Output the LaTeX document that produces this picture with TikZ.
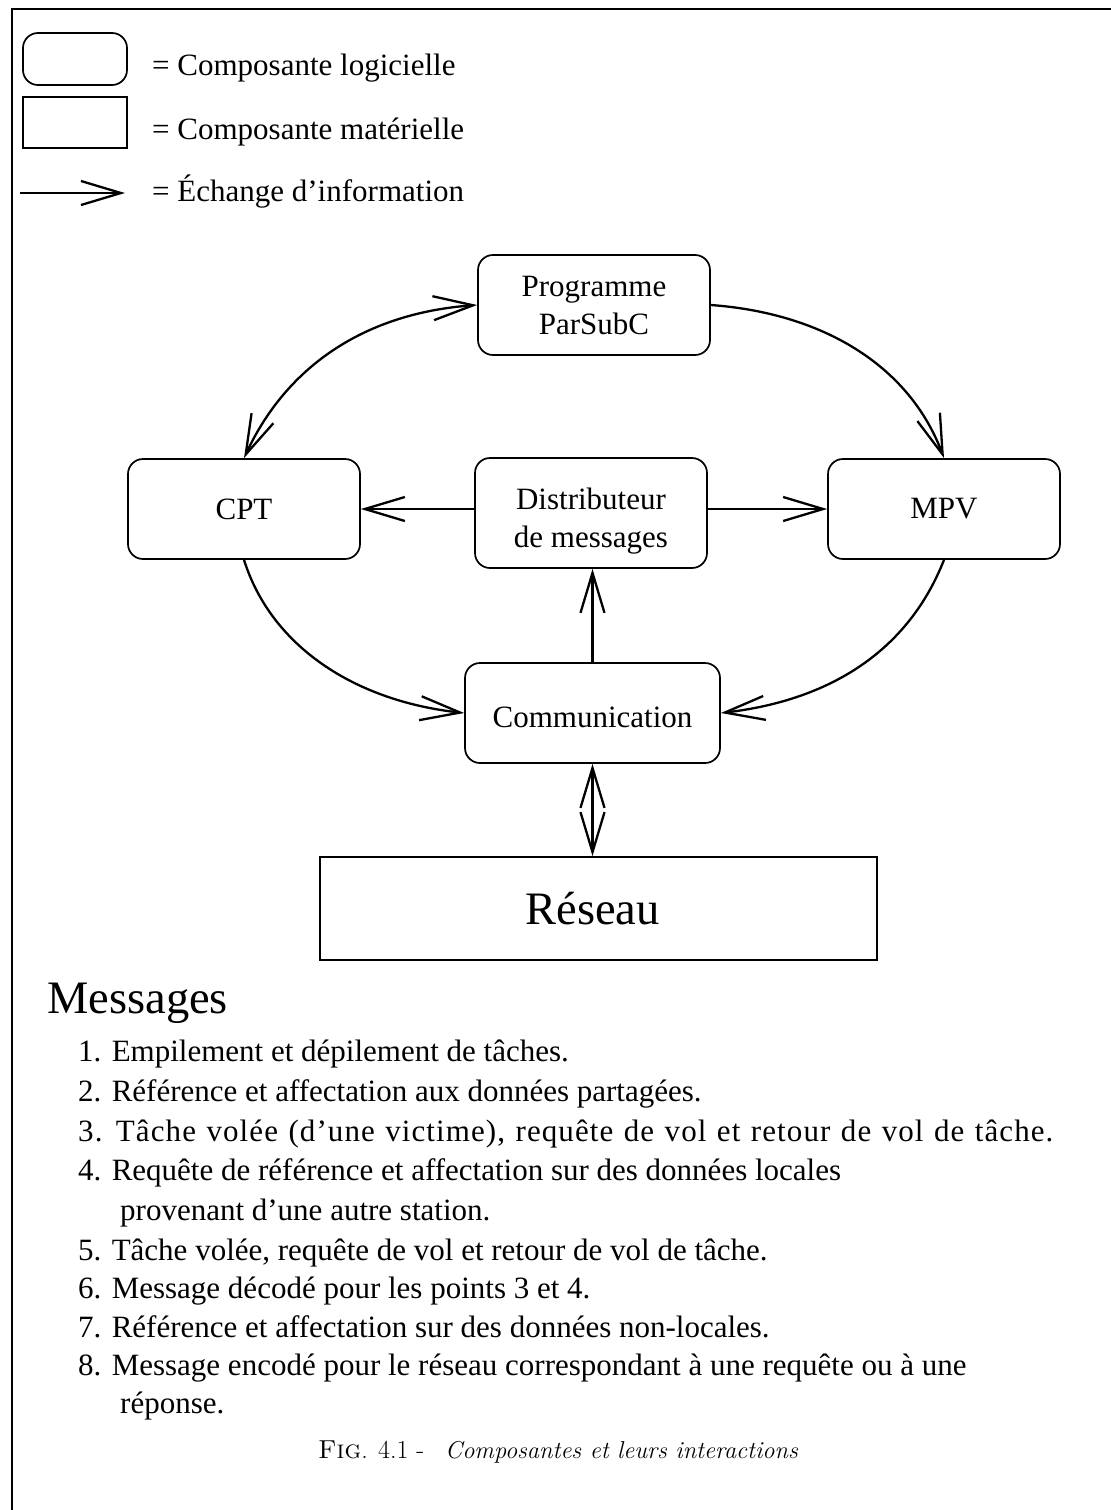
\documentclass[tikz,border=0pt]{standalone}
\usepackage{fontspec}
\newfontfamily\tms{Liberation Serif}
\newfontfamily\tmswide[LetterSpace=3.5]{Liberation Serif}
\usetikzlibrary{arrows.meta}
\begin{document}
\begin{tikzpicture}[x=1pt,y=-1pt,
  >={Straight Barb[length=40pt,width=24pt]},
  txt/.style={font=\tms\fontsize{31}{38}\selectfont, inner sep=0pt, anchor=base west},
  bigtxt/.style={font=\tms\fontsize{46.5}{50}\selectfont, inner sep=0pt},
  soft/.style={draw, line width=1.7pt, rounded corners=15pt, minimum width=232pt,
    minimum height=100pt, align=center, inner sep=0pt,
    font=\tms\fontsize{31}{38}\selectfont},
  hard/.style={draw, line width=1.7pt, inner sep=0pt},
  flow/.style={line width=2.3pt, ->},
  caption/.style={inner sep=0pt, anchor=base west, font=\fontsize{24.4}{28}\selectfont},
]
\useasboundingbox (0,0) rectangle (1111,1510);
\fill[white] (0,0) rectangle (1111,1510);

% outer frame
\draw[line width=1.8pt] (12,9) rectangle (1140,1540);

% legend
\node[soft, minimum width=104pt, minimum height=52pt] (legsoft) at (75,59) {};
\node[hard, minimum width=104pt, minimum height=51pt] (leghard) at (75,122.5) {};
\coordinate (legtail) at (20,193);
\coordinate (leghead) at (125,193);
\draw[flow] (legtail) -- (leghead);
\node[txt] (legsofttxt) at (152,75) {= Composante logicielle};
\node[txt] (leghardtxt) at (152,139) {= Composante matérielle};
\node[txt] (legflowtxt) at (152,201) {= Échange d’information};

% components
\node[soft] (prog) at (594,305) {Programme\\ParSubC};
\node[soft] (cpt) at (244,509) {CPT};
\node[soft, minimum height=110pt] (dist) at (591,513) {\rule{0pt}{38pt}Distributeur\\de messages};
\node[soft] (mpv) at (944,509) {MPV};
\node[soft, minimum width=255pt] (comm) at (592.5,713) {\rule{0pt}{30pt}Communication};
\node[hard, minimum width=557pt, minimum height=103pt, bigtxt] (reseau) at (598.5,908.5) {\hspace*{-12pt}Réseau};

% exchanges
\draw[flow, <->] (cpt.north) .. controls +(43,-93) and +(-111,8) .. (prog.west);
\draw[flow] (prog.east) .. controls +(110,8) and +(-35,-94) .. (mpv.north);
\draw[flow] (mpv.south) .. controls +(-35,89) and +(112,-13) .. (comm.east);
\draw[flow] (cpt.south) .. controls +(27,86) and +(-110,-12) .. (comm.west);
\draw[flow] (dist.west |- cpt.east) -- (cpt.east);
\draw[flow] (dist.east |- mpv.west) -- (mpv.west);
\draw[flow] (comm.north) -- (comm.north |- dist.south);
\draw[flow, <->] (comm.south) -- (comm.south |- reseau.north);

% message list
\node[bigtxt, anchor=base west] (msgtitle) at (47,1013) {Messages};
\node[txt] (m1) at (78,1061) {1. Empilement et dépilement de tâches.};
\node[txt] (m2) at (78,1101) {2. Référence et affectation aux données partagées.};
\node[txt, font=\tmswide\fontsize{31}{38}\selectfont] (m3) at (78,1141) {\spaceskip=10.5pt 3. Tâche volée (d’une victime), requête de vol et retour de vol de tâche.};
\node[txt] (m4) at (78,1180) {4. Requête de référence et affectation sur des données locales};
\node[txt] (m4b) at (120,1220) {provenant d’une autre station.};
\node[txt] (m5) at (78,1260) {5. Tâche volée, requête de vol et retour de vol de tâche.};
\node[txt] (m6) at (78,1298) {6. Message décodé pour les points 3 et 4.};
\node[txt] (m7) at (78,1337) {7. Référence et affectation sur des données non-locales.};
\node[txt] (m8) at (78,1375) {8. Message encodé pour le réseau correspondant à une requête ou à une};
\node[txt] (m8b) at (120,1413) {réponse.};

% caption
\node[caption, font=\fontsize{26}{28}\selectfont] (figlbl) at (318,1458) {\textsc{Fig}. 4.1 -};
\node[caption, font=\fontsize{24.4}{28}\selectfont\itshape] (figtxt) at (445,1458) {Composantes et leurs interactions};
\end{tikzpicture}
\end{document}
